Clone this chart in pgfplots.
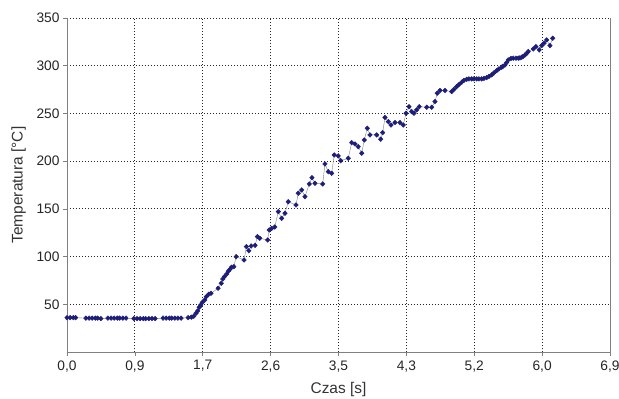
\documentclass[border=0pt]{standalone}
\usepackage{pgfplots}
\pgfplotsset{compat=1.18}
\usepackage{fontspec}
\setmainfont{Liberation Sans}
\definecolor{navy}{RGB}{30,30,120}
\definecolor{axgray}{RGB}{128,128,128}
\begin{document}
\begin{tikzpicture}
\begin{axis}[
  scale only axis, width=543bp, height=334bp,
  at={(0,0)}, anchor=south west,
  xmin=0, xmax=6.9, ymin=0, ymax=350,
  xtick={0,0.8625,1.725,2.5875,3.45,4.3125,5.175,6.0375,6.9},
  xticklabels={{0,0},{0,9},{1,7},{2,6},{3,5},{4,3},{5,2},{6,0},{6,9}},
  ytick={50,100,150,200,250,300,350},
  /pgf/number format/assume math mode=true,
  tick label style={font=\fontsize{13.8}{15}\selectfont, text=black!85},
  label style={font=\fontsize{15.5}{17}\selectfont, text=black!80},
  xlabel={Czas [s]}, ylabel={Temperatura [°C]},
  x label style={at={(axis description cs:0.5,-0.111)}, anchor=center},
  y label style={at={(axis description cs:-0.0893,0.5)}, anchor=center},
  grid=major,
  grid style={black!85, line width=1pt, dash pattern=on 1pt off 2pt},
  axis x line*=bottom, axis y line*=left,
  axis line style={axgray, line width=0.8pt},
  tick align=outside, major tick length=4bp,
  tick style={axgray, line width=0.6pt},
  xticklabel style={yshift=-1bp},
  extra x ticks={6.9}, extra x tick labels={},
  extra x tick style={grid style={solid, axgray, line width=0.8pt}},
  clip=false,
]
\addplot[gray, line width=0.4pt, mark=diamond*, mark size=2.3pt,
  mark options={solid, fill=navy, draw=navy, line width=0.5pt, xscale=1.3}] coordinates {
(0.00,36)(0.04,36)(0.08,36)(0.11,36)
(0.24,35.5)(0.28,35.5)(0.32,35.5)(0.36,35.5)(0.39,35.5)(0.43,35)
(0.52,35.5)(0.56,35.5)(0.60,35.5)(0.64,35.5)(0.67,35.5)(0.71,35.5)(0.75,35.5)
(0.85,35)(0.89,35)(0.93,35)(0.97,35)(1.00,35)(1.04,35)(1.08,35)(1.12,35)
(1.22,35.5)(1.26,35.5)(1.30,35.5)(1.33,35.5)(1.37,35.5)(1.41,35.5)(1.45,35.5)
(1.54,36)(1.58,36.5)(1.61,37.5)
(1.64,40.6)(1.66,43.0)(1.68,46.9)(1.70,49.3)(1.72,52.1)(1.75,54.5)(1.77,58.0)(1.80,60.5)(1.83,61.5)
(1.92,66.8)(1.96,72.0)(1.98,76.5)(2.00,78.9)(2.03,81.8)(2.05,84.6)(2.07,86.7)(2.09,88.8)(2.12,89.4)
(2.15,99.9)(2.25,96.4)(2.28,110.4)(2.31,106.2)(2.34,111.1)(2.39,111.8)(2.42,120.9)(2.45,119.2)
(2.55,117.4)(2.57,127.9)(2.60,129.5)(2.64,131)
(2.685,147.1)(2.728,140.1)(2.770,145.4)(2.812,157.5)(2.910,154.1)(2.939,166.4)(2.982,169.8)
(3.024,162.8)(3.079,176.1)(3.113,182.7)(3.151,176.8)(3.249,176.1)(3.278,197.1)(3.320,189.0)
(3.363,187.3)(3.396,206.5)(3.447,205.5)(3.478,200.5)(3.574,203.0)(3.618,219.4)(3.660,218.0)
(3.701,215.2)(3.745,208.3)(3.778,222.2)(3.816,234.5)(3.850,227.5)(3.935,227.5)(3.986,223.0)
(4.011,229.9)(4.041,245.8)(4.083,241.4)(4.117,237.9)(4.168,240.4)(4.231,240.4)(4.273,237.9)
(4.308,250.2)(4.346,257.1)(4.380,251.9)(4.409,250.2)(4.443,253.7)(4.476,257.1)(4.571,256.5)
(4.634,256.5)(4.676,262.4)(4.705,271.2)(4.740,274.1)(4.803,274.1)
(4.888,272.9)(4.917,275.2)(4.952,278.1)(4.981,280.4)(5.015,282.7)(5.044,284.6)(5.079,285.8)
(5.108,286.2)(5.142,286.2)(5.171,286.2)(5.206,286.2)(5.235,286.2)(5.269,286.2)(5.298,286.7)
(5.333,287.5)(5.362,288.8)(5.396,290.4)(5.425,292.5)(5.460,294.9)(5.489,296.7)(5.523,298.4)
(5.540,299.3)(5.565,300.8)(5.587,303.4)(5.607,306.1)(5.642,307.6)(5.671,307.9)(5.705,307.9)
(5.735,307.9)(5.756,308.2)(5.778,308.9)(5.794,309.7)(5.820,311.3)(5.841,312.9)(5.861,314.8)
(5.925,317.6)(5.959,320.0)(6.001,316.6)(6.032,321.1)(6.061,323.6)(6.095,327.0)(6.137,321.1)(6.172,328.8)
};
\end{axis}
\pgfresetboundingbox
\path (-67bp,-47bp) rectangle (552bp,352bp);
\end{tikzpicture}
\end{document}
